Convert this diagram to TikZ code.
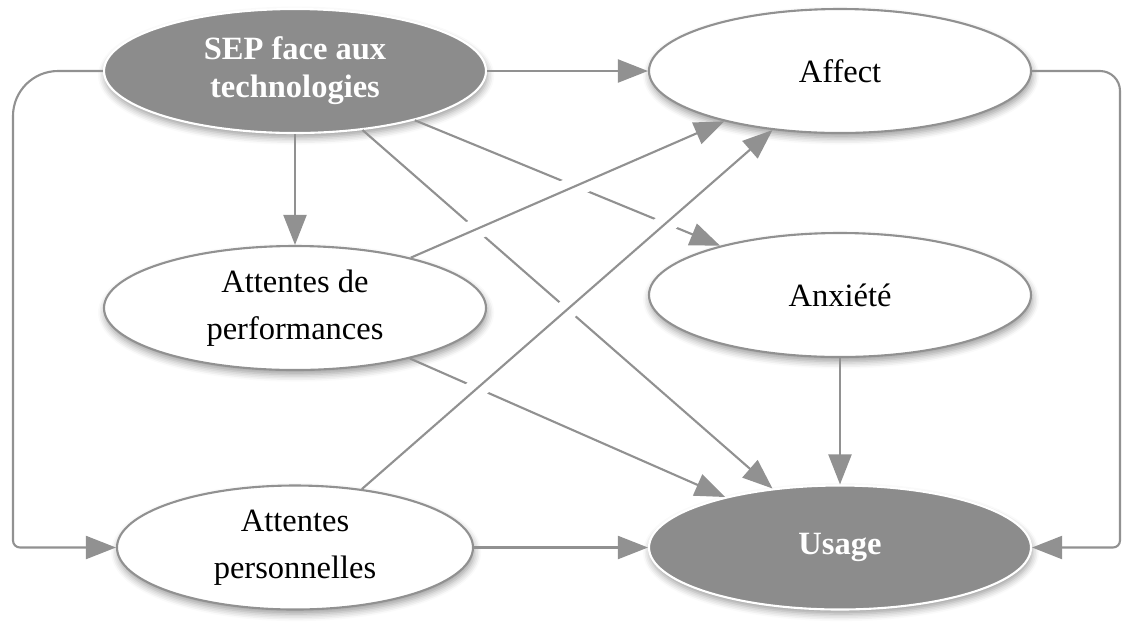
\documentclass[tikz,border=0pt]{standalone}
\usepackage{fontspec}
\setmainfont{Liberation Serif}
\usetikzlibrary{shapes.geometric}
\usetikzlibrary{shadows.blur}
\usetikzlibrary{arrows.meta}
\definecolor{nodegray}{RGB}{140,140,140}
\definecolor{linegray}{RGB}{145,145,145}
\tikzset{% 
	latent/.style={ellipse,draw=linegray,line width=0.6pt,fill=white,minimum width=3.82cm,minimum height=1.24cm,inner sep=0pt,align=center,font=\fontsize{9.25}{13.4}\selectfont,blur shadow={shadow xshift=0.3pt,shadow yshift=-1.3pt,shadow blur radius=2pt,shadow blur steps=5,shadow opacity=40}},
	dark/.style={latent,fill=nodegray,draw=white,text=white,font=\fontsize{9.25}{10.8}\selectfont\bfseries},
	link/.style={draw=linegray,line width=0.6pt,-{Triangle[length=3mm,width=2.3mm]}},
	over/.style={link,preaction={draw=white,line width=6pt,shorten <=3mm,shorten >=3mm,-}}
}

\begin{document}
\begin{tikzpicture}
		\useasboundingbox (0,0) rectangle (11.23,6.25);

		\coordinate (c1) at (2.95,5.54);
		\coordinate (c2) at (8.40,5.54);
		\coordinate (c3) at (2.95,3.17);
		\coordinate (c4) at (8.40,3.30);
		\coordinate (c5) at (2.95,0.775);
		\coordinate (c6) at (8.40,0.775);

		\node [dark] (sep) at (c1) {SEP face aux\\technologies};
		\node [latent] (affect) at (c2) {Affect};
		\node [latent] (aperf) at (c3) {Attentes de\\performances};
		\node [latent] (anx) at (c4) {Anxiété};
		\node [latent,minimum width=3.56cm] (aperso) at (c5) {Attentes\\personnelles};
		\node [dark] (usage) at (c6) {Usage};

		\coordinate (tl) at (0.13,5.54);
		\coordinate (bl) at (0.13,0.775);
		\coordinate (tr) at (11.20,5.54);
		\coordinate (br) at (11.20,0.775);

		\draw [link] (sep) -- (affect);
		\draw [link] (sep) -- (aperf);
		\draw [link] (sep) -- (anx);
		\draw [link] (sep) -- (usage);
		\draw [link] (aperf) -- (usage);
		\draw [link] (aperso) -- (usage);
		\draw [link] (anx) -- (usage);
		\draw [link,rounded corners=4.5mm] (sep.west) -- (tl) [rounded corners=0.7mm] -- (bl) -- (aperso.west);
		\draw [link,rounded corners=2mm] (affect.east) -- (tr) [rounded corners=0.7mm] -- (br) -- (usage.east);

		\draw [over] (aperf) -- (affect);
		\draw [over] (aperso) -- (affect);

	\end{tikzpicture}
\end{document}
